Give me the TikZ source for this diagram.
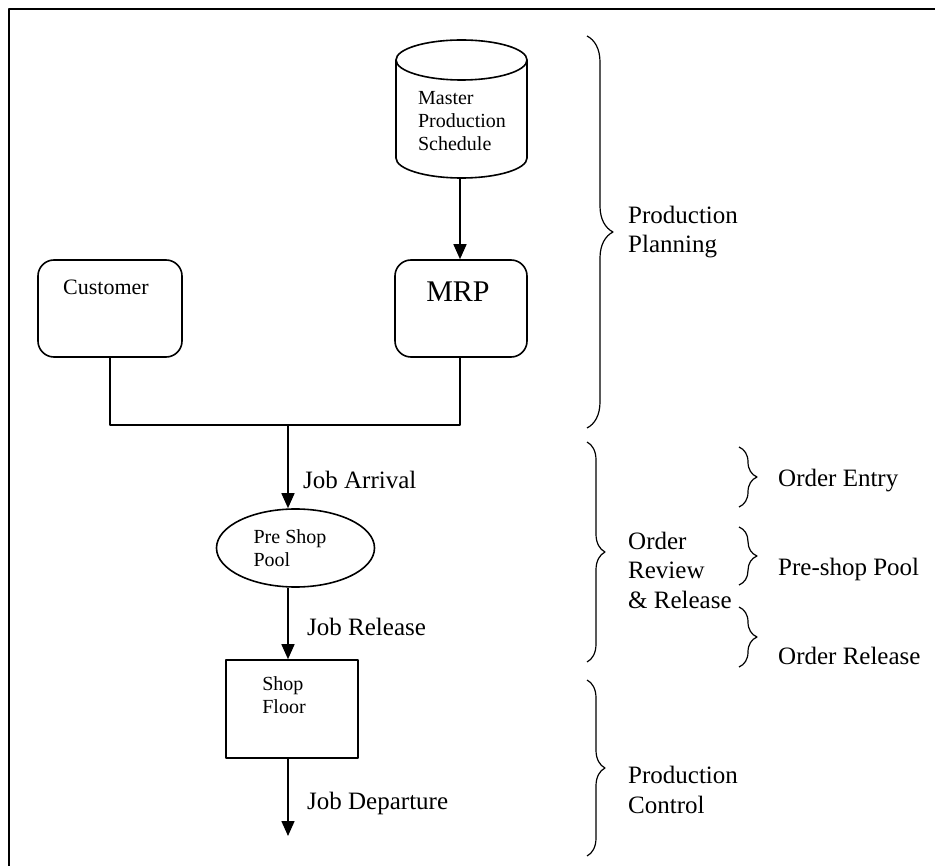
\documentclass[tikz,border=0pt]{standalone}
\usepackage{fontspec}
\setmainfont{Liberation Serif}
\usetikzlibrary{arrows.meta,shapes.geometric,decorations.pathreplacing}

\begin{document}
\begin{tikzpicture}[x=1pt,y=-1pt,
  line join=round,
  boxline/.style={draw=black,line width=1.6pt},
  roundbox/.style={boxline,rounded corners=16pt,minimum width=144pt,minimum height=97pt,inner sep=0pt},
  flowline/.style={draw=black,line width=1.6pt},
  arr/.style={flowline,-{Triangle[length=15pt,width=13pt]}},
  small/.style={font=\fontsize{20}{23}\selectfont,align=left,inner sep=0pt},
  big/.style={font=\fontsize{25}{29.5}\selectfont,align=left,inner sep=0pt,anchor=west},
  bigbrace/.style={draw=black,line width=1.2pt,decorate,decoration={brace,amplitude=#1}},
]
\useasboundingbox (0,0) rectangle (935,866);

% page frame (top and left edges)
\draw[line width=2.6pt] (9,866) -- (9,9) -- (935,9);

% Master Production Schedule (drum)
\draw[boxline,fill=white] (396,60) -- (396,158)
  arc[start angle=180,end angle=360,x radius=65.5pt,y radius=20pt]
  -- (527,60);
\draw[boxline] (461.5,60) ellipse[x radius=65.5pt,y radius=20pt];
\node[small] (mps) at (462,121) {Master\\Production\\Schedule};
\coordinate (mpsbot) at (460,178);

% Customer and MRP
\node[roundbox] (cust) at (110,308.5) {};
\node[small,font=\fontsize{22}{24}\selectfont] (custtxt) at (106,287) {Customer};
\node[roundbox,minimum width=132pt] (mrp) at (461,308.5) {};
\node[font=\fontsize{30}{32}\selectfont,inner sep=0pt] (mrptxt) at (458,292) {MRP};

\draw[arr] (mpsbot) -- (mpsbot |- mrp.north);

% joining of the two order streams
\coordinate (jn) at (288,425);
\draw[flowline] (cust.south) -- (cust.south |- jn) -- (mpsbot |- jn)
  -- (mpsbot |- mrp.south);

% pre-shop pool
\node[ellipse,boxline,minimum width=158pt,minimum height=78pt,inner sep=0pt] (pool) at (295.5,548) {};
\node[small] (pooltxt) at (290,548) {Pre Shop\\Pool};

% shop floor
\node[boxline,minimum width=132pt,minimum height=98pt,inner sep=0pt] (shop) at (292,709) {};
\node[small] (shoptxt) at (284,695.5) {Shop\\Floor};
\coordinate (out) at (288,836);

% job flow
\draw[arr] (jn) -- (jn |- pool.north);
\draw[arr] (jn |- pool.south) -- (jn |- shop.north);
\draw[arr] (jn |- shop.south) -- (out);

\node[big] (arrival) at (303,480) {Job Arrival};
\node[big] (release) at (307,627) {Job Release};
\node[big] (depart) at (307,803) {Job Departure};

% planning levels
\draw[bigbrace=26pt] (587,36) -- (587,428);
\node[big] (pp) at (628,232) {Production\\Planning};

\draw[bigbrace=18pt] (587,442) -- (587,662);
\node[big] (orr) at (628,570) {Order\\Review\\\& Release};

\draw[bigbrace=18pt] (587,680) -- (587,856);
\node[big] (pc) at (628,790) {Production\\Control};

\draw[bigbrace=18pt] (739,447) -- (739,507);
\node[big] (oe) at (778,481) {Order Entry};

\draw[bigbrace=18pt] (739,527) -- (739,585);
\node[big] (psp) at (778,569) {Pre-shop Pool};

\draw[bigbrace=18pt] (739,607) -- (739,667);
\node[big] (orl) at (778,656) {Order Release};
\end{tikzpicture}
\end{document}
